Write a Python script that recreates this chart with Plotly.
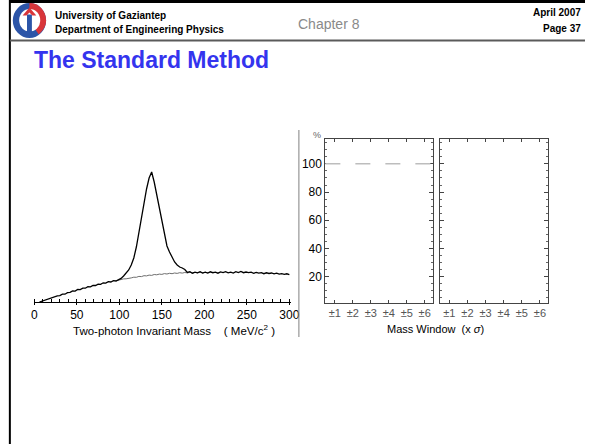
import plotly.graph_objects as go

# ---------------- data ----------------
mass_mev = [6, 9, 12, 15, 18, 21, 24, 27, 30, 33, 36, 39, 42, 45, 48, 51, 54, 57, 60, 63,
            66, 69, 72, 75, 78, 81, 84, 87, 90, 93, 96, 99, 102, 105, 108, 111, 114, 117, 120, 123,
            126, 129, 132, 135, 138, 141, 144, 147, 150, 153, 156, 159, 162, 165, 168, 171, 174, 177, 180, 183,
            186, 189, 192, 195, 198, 201, 204, 207, 210, 213, 216, 219, 222, 225, 228, 231, 234, 237, 240, 243,
            246, 249, 252, 255, 258, 261, 264, 267, 270, 273, 276, 279, 282, 285, 288, 291, 294, 297, 300]
total_counts = [0.0, 0.9, 1.4, 2.8, 3.1, 4.6, 4.8, 6.2, 6.4, 7.9, 7.8, 9.4, 9.6, 11.0, 10.9, 12.5, 12.4, 13.9, 13.8, 15.3,
                15.2, 16.6, 16.5, 17.9, 17.6, 19.2, 18.9, 20.4, 20.0, 21.3, 21.0, 22.4, 23.6, 26.0, 28.5, 32.0, 37.0, 44.0, 55.0, 70.0,
                86.0, 101.0, 113.0, 124.0, 130.0, 120.0, 107.0, 93.0, 79.0, 66.0, 56.0, 50.0, 45.0, 40.0, 37.0, 35.0, 34.0, 32.5, 29.6, 30.4,
                28.8, 29.9, 29.1, 30.3, 28.9, 29.8, 29.0, 30.2, 29.3, 29.9, 28.8, 30.1, 29.4, 30.3, 29.2, 29.8, 29.0, 30.4, 29.5, 30.6,
                29.3, 30.0, 29.4, 29.9, 28.7, 29.6, 28.9, 29.4, 28.3, 29.2, 28.5, 29.0, 28.1, 28.8, 27.9, 28.4, 27.6, 28.2, 27.3]

bkg_mass_mev = [96, 99, 102, 105, 108, 111, 114, 117, 120, 123, 126, 129, 132, 135, 138, 141, 144, 147, 150,
                153, 156, 159, 162, 165, 168, 171, 174, 177, 180, 183, 186, 189, 192, 195, 198, 201, 204]
bkg_counts = [21.2, 21.9, 22.3, 23.1, 23.2, 24.0, 24.1, 24.8, 24.7, 25.6, 25.4, 26.3, 26.1, 26.9, 26.6, 27.5, 27.2, 27.9, 27.6,
              28.4, 28.0, 28.7, 28.3, 29.0, 28.6, 29.3, 28.9, 29.5, 29.1, 29.7, 29.0, 29.6, 29.2, 29.8, 29.1, 29.7, 29.3]

mass_tick_step = 50
window_ticks = [1, 2, 3, 4, 5, 6]
window_labels = ["±1", "±2", "±3", "±4", "±5", "±6"]
pct_ticks = [20, 40, 60, 80, 100]
reference_pct = 100

# ---------------- figure ----------------
W, H = 594, 444
FONT = "Liberation Sans, Arial, Helvetica, sans-serif"


def fx(px):
    return px / W


def fy(py):
    return 1 - py / H


fig = go.Figure()
fig.add_trace(go.Scatter(x=bkg_mass_mev, y=bkg_counts, mode="lines",
                         line=dict(color="#6e6e6e", width=1), xaxis="x", yaxis="y", hoverinfo="skip"))
fig.add_trace(go.Scatter(x=mass_mev, y=total_counts, mode="lines",
                         line=dict(color="black", width=1.3), xaxis="x", yaxis="y"))
fig.add_trace(go.Scatter(x=[None], y=[None], mode="lines", xaxis="x2", yaxis="y2", hoverinfo="skip"))
fig.add_trace(go.Scatter(x=[None], y=[None], mode="lines", xaxis="x3", yaxis="y3", hoverinfo="skip"))
fig.add_trace(go.Scatter(x=[None], y=[None], mode="lines", xaxis="x4", yaxis="y4", hoverinfo="skip"))

panel_x = dict(range=[0.47, 6.47], tickmode="array", tickvals=window_ticks, ticktext=window_labels,
               ticks="inside", ticklen=3, tickcolor="#444", showline=True, linecolor="#444", linewidth=1,
               mirror="ticks", showgrid=False, zeroline=False,
               tickfont=dict(family=FONT, size=11, color="#555"), fixedrange=True)
panel_y = dict(range=[1.6, 117.6], tickmode="array", tickvals=pct_ticks,
               ticks="inside", ticklen=4, tickcolor="#444", showline=True, linecolor="#444", linewidth=1,
               mirror="ticks", showgrid=False, zeroline=False,
               minor=dict(tickmode="linear", tick0=0, dtick=5, ticks="inside", ticklen=2, tickcolor="#666"),
               tickfont=dict(family=FONT, size=12, color="black"), fixedrange=True)

fig.update_layout(
    width=W, height=H, margin=dict(l=0, r=0, t=0, b=0),
    paper_bgcolor="white", plot_bgcolor="rgba(0,0,0,0)", showlegend=False,
    font=dict(family=FONT, color="black"),
    xaxis=dict(domain=[fx(32), fx(294)], range=[0, 302], anchor="y",
               tickmode="linear", tick0=0, dtick=mass_tick_step,
               ticks="outside", ticklen=2, tickcolor="black",
               minor=dict(tickmode="linear", tick0=0, dtick=10, ticks="inside", ticklen=3, tickcolor="black"),
               showline=True, linecolor="black", linewidth=1, showgrid=False, zeroline=False,
               tickfont=dict(family=FONT, size=12, color="black"), fixedrange=True),
    yaxis=dict(domain=[fy(302), fy(167)], range=[0, 135], anchor="x", visible=False, fixedrange=True),
    xaxis2=dict(domain=[fx(329), fx(439)], anchor="y2", **panel_x),
    yaxis2=dict(domain=[fy(302.7), fy(139)], anchor="x2", **panel_y),
    xaxis3=dict(domain=[fx(445.7), fx(556.7)], anchor="y3", **panel_x),
    yaxis3=dict(domain=[fy(302.7), fy(139)], anchor="x3", showticklabels=False, **panel_y),
    xaxis4=dict(domain=[0, 1], range=[0, W], anchor="y4", visible=False, fixedrange=True),
    yaxis4=dict(domain=[0, 1], range=[H, 0], anchor="x4", visible=False, fixedrange=True),
)

shapes = []


def line(x0, y0, x1, y1, color, width, dash="solid"):
    shapes.append(dict(type="line", xref="x4", yref="y4", x0=x0, y0=y0, x1=x1, y1=y1,
                       line=dict(color=color, width=width, dash=dash)))


# slide frame
line(7, 0, 7, H, "black", 2)
line(7, 1.5, W, 1.5, "black", 3)
line(7, 40.5, W, 40.5, "#5a5a5a", 2)
# separator between the two figures
line(302, 130, 302, 337, "#808080", 1)

# reference line at 100 %
shapes.append(dict(type="line", xref="x2 domain", yref="y2", x0=0, x1=1, y0=reference_pct, y1=reference_pct,
                   line=dict(color="#bdbdbd", width=1.5, dash="longdash")))

# logo
cx, cy, rx, ry = 27, 20.5, 17, 17.5
k = 0.5523
shapes.append(dict(type="circle", xref="x4", yref="y4", x0=cx - rx, x1=cx + rx, y0=cy - ry, y1=cy + ry,
                   fillcolor="#2c55a8", line=dict(width=0)))
red_half = (f"M {cx},{cy - ry} C {cx + k * rx},{cy - ry} {cx + rx},{cy - k * ry} {cx + rx},{cy} "
            f"C {cx + rx},{cy + k * ry * 0.6} {cx + rx * 0.8},{cy + ry * 0.6} {cx + rx * 0.55},{cy + ry * 0.78} "
            f"L {cx},{cy} Z")
shapes.append(dict(type="path", xref="x4", yref="y4", path=red_half, fillcolor="#d8353a", line=dict(width=0)))
shapes.append(dict(type="circle", xref="x4", yref="y4", x0=cx - 10.5, x1=cx + 11, y0=cy - 11.5, y1=cy + 11,
                   fillcolor="white", line=dict(width=0)))
shapes.append(dict(type="rect", xref="x4", yref="y4", x0=cx - 2.5, x1=cx + 2.5, y0=cy - 6, y1=cy + ry - 1,
                   fillcolor="#2c55a8", line=dict(width=0)))
shapes.append(dict(type="path", xref="x4", yref="y4",
                   path=f"M {cx - 7},{cy - 5} L {cx},{cy - 13} L {cx + 7},{cy - 5} L {cx + 3},{cy - 5} L {cx},{cy - 8} L {cx - 3},{cy - 5} Z",
                   fillcolor="#d8353a", line=dict(width=0)))

fig.update_layout(shapes=shapes)

ann = []


def text(x, y, s, size, color="black", xanchor="left", yanchor="middle"):
    ann.append(dict(x=x, y=y, xref="x4", yref="y4", text=s, showarrow=False, xanchor=xanchor, yanchor=yanchor,
                    font=dict(family=FONT, size=size, color=color)))


text(51, 15, "<b>University of Gaziantep</b>", 10)
text(51, 29, "<b>Department of Engineering Physics</b>", 10)
text(299, 24, "Chapter 8", 14, color="#8a8a8a")
text(592, 12.5, "<b>April 2007</b>", 10, xanchor="right")
text(592, 28, "<b>Page 37</b>", 10, xanchor="right")
text(30, 59.5, "<b>The Standard Method</b>", 23, color="#3434ee")
text(175, 330, "Two-photon Invariant Mass &nbsp;&nbsp;&nbsp;( MeV/c<sup>2</sup> )", 11.5, xanchor="center")
text(441, 329, "Mass Window &nbsp;(x <i>σ</i>)", 11, xanchor="center")
text(320, 135, "%", 9, color="#666", xanchor="center")

fig.update_layout(annotations=ann)

fig.write_html("out.html")
